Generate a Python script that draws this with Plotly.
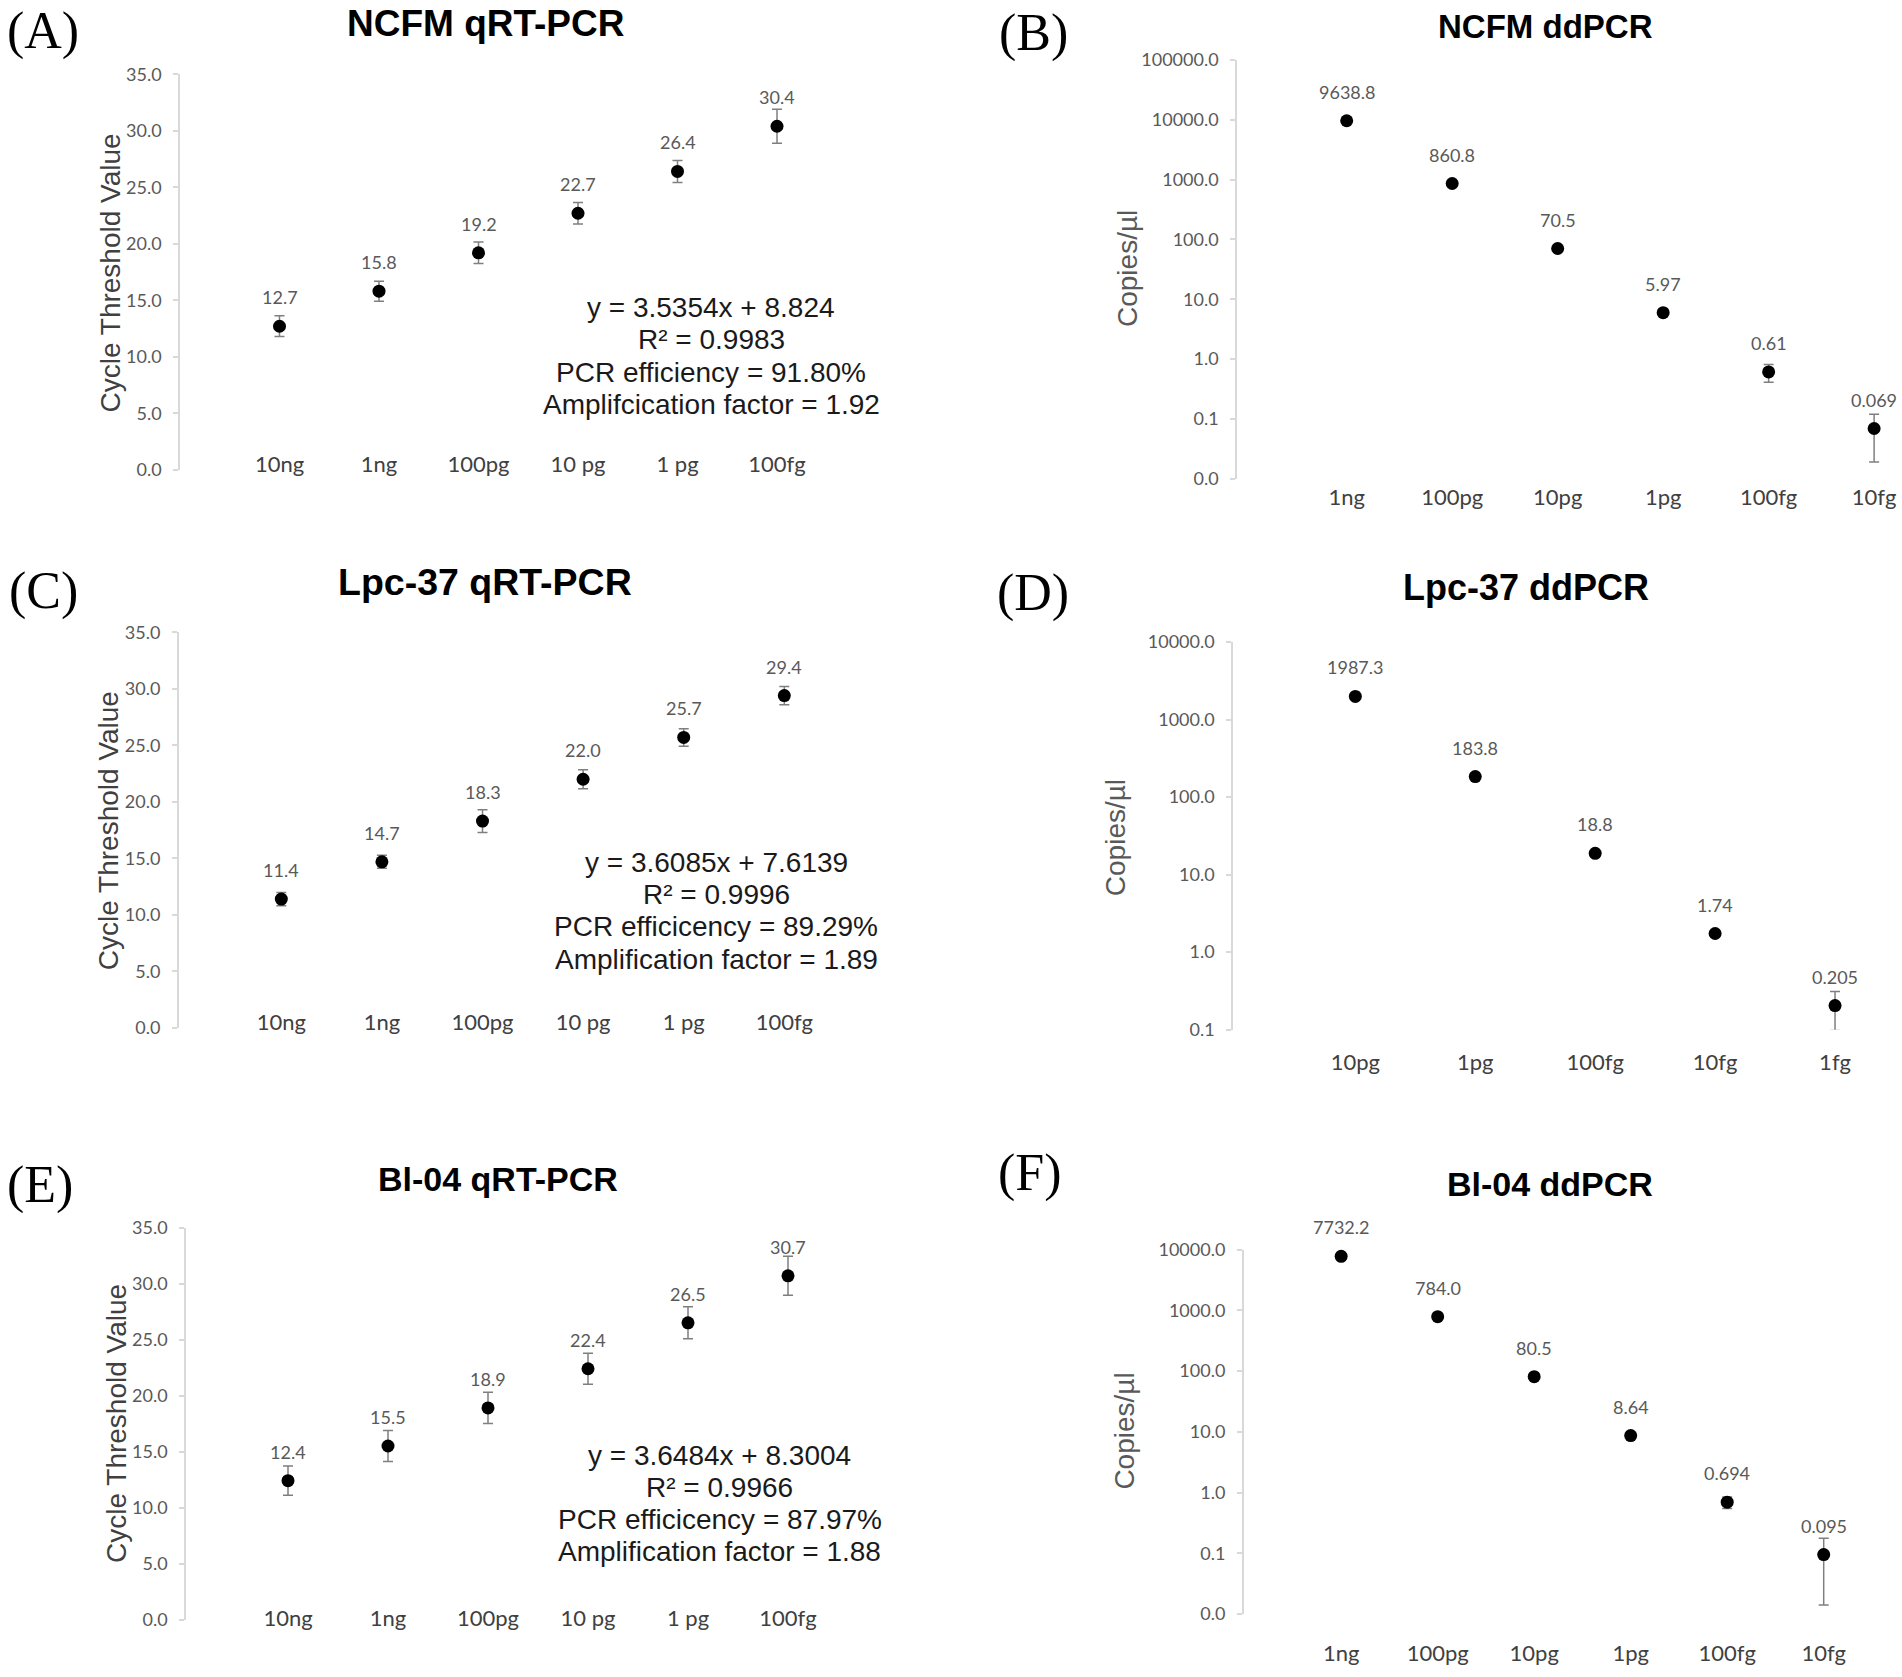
import numpy as np
import plotly.graph_objects as go

# qRT-PCR panels (A, C, E)
qpcr_labels = ["10ng", "1ng", "100pg", "10 pg", "1 pg", "100fg"]
ncfm_ct = [12.7, 15.8, 19.2, 22.7, 26.4, 30.4]
ncfm_ct_err = [0.92, 0.88, 0.95, 0.95, 0.97, 1.5]
lpc_ct = [11.4, 14.7, 18.3, 22.0, 25.7, 29.4]
lpc_ct_err = [0.58, 0.57, 1.0, 0.84, 0.77, 0.8]
bl_ct = [12.4, 15.5, 18.9, 22.4, 26.5, 30.7]
bl_ct_err = [1.31, 1.38, 1.4, 1.38, 1.43, 1.74]

# ddPCR panels (B, D, F)
ncfm_dd_labels = ["1ng", "100pg", "10pg", "1pg", "100fg", "10fg"]
ncfm_copies = [9638.8, 860.8, 70.5, 5.97, 0.61, 0.069]
ncfm_copies_err = [300, 40, 4, 0.4, 0.2, 0.05]
lpc_dd_labels = ["10pg", "1pg", "100fg", "10fg", "1fg"]
lpc_copies = [1987.3, 183.8, 18.8, 1.74, 0.205]
lpc_copies_err = [80, 10, 1.2, 0.15, 0.107]
bl_dd_labels = ["1ng", "100pg", "10pg", "1pg", "100fg", "10fg"]
bl_copies = [7732.2, 784.0, 80.5, 8.64, 0.694, 0.095]
bl_copies_err = [300, 40, 4, 0.5, 0.15, 0.081]

ct_ticks = [0, 5, 10, 15, 20, 25, 30, 35]
copies_ticks_b = [0.01, 0.1, 1, 10, 100, 1000, 10000, 100000]
copies_ticks_d = [0.1, 1, 10, 100, 1000, 10000]
copies_ticks_f = [0.01, 0.1, 1, 10, 100, 1000, 10000]

titles = ["NCFM qRT-PCR", "NCFM ddPCR", "Lpc-37 qRT-PCR", "Lpc-37 ddPCR",
          "Bl-04 qRT-PCR", "Bl-04 ddPCR"]
panel_tags = ["(A)", "(B)", "(C)", "(D)", "(E)", "(F)"]
fit_texts = [
    ["y = 3.5354x + 8.824", "R² = 0.9983", "PCR efficiency = 91.80%",
     "Amplifcication factor = 1.92"],
    ["y = 3.6085x + 7.6139", "R² = 0.9996", "PCR efficicency = 89.29%",
     "Amplification factor = 1.89"],
    ["y = 3.6484x + 8.3004", "R² = 0.9966", "PCR efficicency = 87.97%",
     "Amplification factor = 1.88"],
]

W, H = 1902, 1677


def px(x):
    return x / W


def py(y):
    return 1 - y / H


NUM_FONT = "Lato"
SANS = "Liberation Sans"

panels = [
    dict(labels=qpcr_labels, vals=ncfm_ct, err=ncfm_ct_err, log=False, ticks=ct_ticks,
         xd=(180, 876.5), yd=(74.3, 469.7), xr=[-1, 6], yr=[0, 35], xl=449,
         t=(485, 24), ts=37, tag=(43, 31), yt=(110, 273.5)),
    dict(labels=ncfm_dd_labels, vals=ncfm_copies, err=ncfm_copies_err, log=True, ticks=copies_ticks_b,
         xd=(1237, 1891), yd=(60, 478.7), xr=[-1.04, 5.16], yr=[-2, 5], xl=482,
         t=(1545, 26), ts=33, tag=(1033, 33), yt=(1128, 269)),
    dict(labels=qpcr_labels, vals=lpc_ct, err=lpc_ct_err, log=False, ticks=ct_ticks,
         xd=(178.7, 882.9), yd=(632.3, 1028), xr=[-1.02, 5.98], yr=[0, 35], xl=1007,
         t=(485, 582), ts=37.5, tag=(43, 591), yt=(108.5, 830.7)),
    dict(labels=lpc_dd_labels, vals=lpc_copies, err=lpc_copies_err, log=True, ticks=copies_ticks_d,
         xd=(1233, 1889), yd=(642, 1029.7), xr=[-1.02, 4.45], yr=[-1, 4], xl=1047,
         t=(1526, 587), ts=36, tag=(1033, 593), yt=(1115.6, 837.6)),
    dict(labels=qpcr_labels, vals=bl_ct, err=bl_ct_err, log=False, ticks=ct_ticks,
         xd=(186, 886), yd=(1227.7, 1619.5), xr=[-1.02, 5.98], yr=[0, 35], xl=1602.5,
         t=(498, 1179), ts=34, tag=(40, 1185), yt=(116, 1424)),
    dict(labels=bl_dd_labels, vals=bl_copies, err=bl_copies_err, log=True, ticks=copies_ticks_f,
         xd=(1243.7, 1881.6), yd=(1249.5, 1614), xr=[-1.01, 5.6], yr=[-2, 4], xl=1638,
         t=(1550, 1184), ts=34, tag=(1030, 1173), yt=(1125, 1431.6)),
]

fig = go.Figure()
annotations = []
layout = {}

for k, p in enumerate(panels):
    n = k + 1
    xa = "x" if n == 1 else f"x{n}"
    ya = "y" if n == 1 else f"y{n}"
    idx = list(range(len(p["labels"])))

    fig.add_trace(go.Scatter(
        x=idx, y=p["vals"], xaxis=xa, yaxis=ya, mode="markers",
        marker=dict(color="black", size=13),
        error_y=dict(type="data", array=p["err"], color="#7f7f7f", thickness=1.5, width=5),
        cliponaxis=False, showlegend=False,
    ))

    layout[f"xaxis{n}"] = dict(
        domain=[px(p["xd"][0]), px(p["xd"][1])], range=p["xr"],
        anchor="free", position=py(p["xl"]),
        tickmode="array", tickvals=idx, ticktext=p["labels"],
        showline=False, showgrid=False, zeroline=False, ticks="",
        tickfont=dict(family=NUM_FONT, size=22, color="#404040"),
    )
    layout[f"yaxis{n}"] = dict(
        domain=[py(p["yd"][1]), py(p["yd"][0])], range=p["yr"],
        type="log" if p["log"] else "linear", anchor=xa,
        tickmode="array", tickvals=p["ticks"], ticktext=[f"{v:.1f}" for v in p["ticks"]],
        showline=True, linecolor="#d9d9d9", linewidth=1.5,
        ticks="outside", ticklen=5, tickcolor="#d9d9d9", tickwidth=1.5,
        ticklabelstandoff=8,
        showgrid=False, zeroline=False,
        tickfont=dict(family=NUM_FONT, size=18, color="#595959"),
    )

    # data labels above each point
    for i, v in zip(idx, p["vals"]):
        annotations.append(dict(
            x=i, y=float(np.log10(v)) if p["log"] else v, xref=xa, yref=ya,
            text=str(v) if p["log"] else f"{v:.1f}", showarrow=False,
            yshift=29, yanchor="middle",
            font=dict(family=NUM_FONT, size=18, color="#595959"),
        ))

    annotations.append(dict(
        x=px(p["t"][0]), y=py(p["t"][1]), xref="paper", yref="paper",
        text=f"<b>{titles[k]}</b>", showarrow=False, xanchor="center", yanchor="middle",
        font=dict(family=SANS, size=p["ts"], color="black"),
    ))
    annotations.append(dict(
        x=px(p["tag"][0]), y=py(p["tag"][1]), xref="paper", yref="paper",
        text=panel_tags[k], showarrow=False, xanchor="center", yanchor="middle",
        font=dict(family="Liberation Serif", size=52, color="black"),
    ))
    annotations.append(dict(
        x=px(p["yt"][0]), y=py(p["yt"][1]), xref="paper", yref="paper",
        text="Copies/µl" if p["log"] else "Cycle Threshold Value",
        textangle=-90, showarrow=False, xanchor="center", yanchor="middle",
        font=dict(family=SANS, size=28, color="#595959" if p["log"] else "#404040"),
    ))

# regression summaries, one annotation per line
fit_pos = [(711, 307.5), (716, 862.3), (719.5, 1455)]
for lines, (fx, fy) in zip(fit_texts, fit_pos):
    for j, line in enumerate(lines):
        annotations.append(dict(
            x=px(fx), y=py(fy + 32.3 * j), xref="paper", yref="paper",
            text=line, showarrow=False, xanchor="center", yanchor="middle",
            font=dict(family=SANS, size=28, color="#1a1a1a"),
        ))

fig.update_layout(
    width=W, height=H,
    margin=dict(l=0, r=0, t=0, b=0, autoexpand=False),
    paper_bgcolor="white", plot_bgcolor="white",
    annotations=annotations, **layout,
)

fig.write_html("out.html", config={"displayModeBar": False},
               post_script="document.body.style.margin = '0px';")
